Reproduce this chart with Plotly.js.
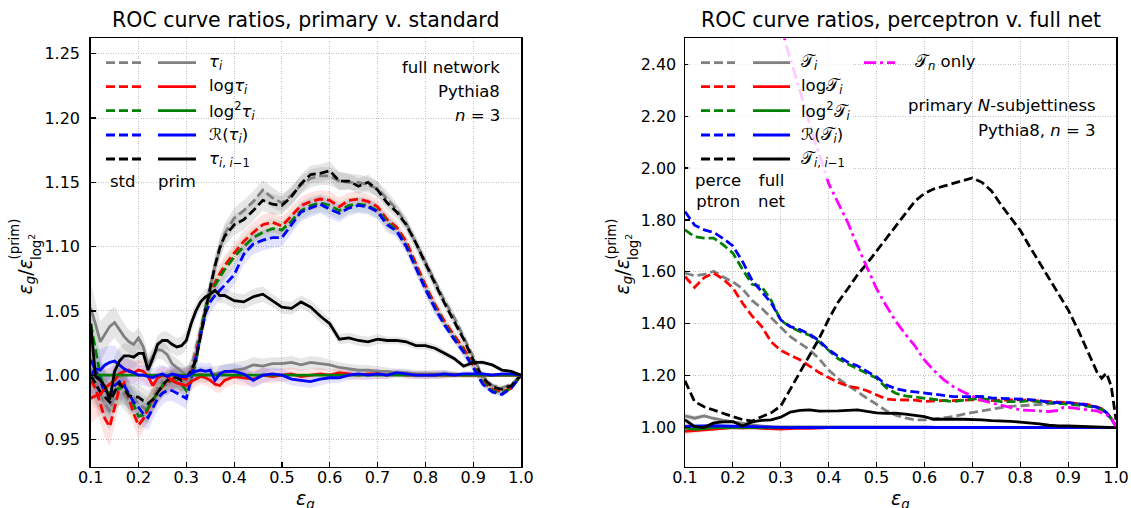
<!DOCTYPE html>
<html>
<head>
<meta charset="utf-8">
<script src="https://cdn.plot.ly/plotly-3.0.1.min.js"></script>
<style>html,body{margin:0;padding:0;background:#fff}#chart{width:1131px;height:508px}</style>
</head>
<body>
<div id="chart"></div>
<script>
// ---------- left panel: primary v. standard N-subjettiness inputs ----------
const effL = [0.10,0.11,0.12,0.13,0.14,0.15,0.16,0.17,0.18,0.19,0.20,0.21,0.22,0.23,0.24,0.25,0.26,0.27,0.28,0.29,0.30,0.31,0.32,0.33,0.34,0.35,0.36,0.37,0.38,
  0.40,0.42,0.44,0.46,0.48,0.50,0.52,0.54,0.56,0.58,0.60,0.62,0.64,0.66,0.68,0.70,0.72,0.74,0.76,0.78,0.80,0.82,0.84,0.86,0.88,0.90,0.92,0.94,0.96,0.98,1.00];

// standard inputs (dashed)
const stdTau = [1.005,0.995,0.985,0.978,0.972,0.985,0.990,0.985,0.980,0.982,0.978,0.975,0.972,0.982,0.990,0.995,0.992,0.996,0.998,0.995,0.997,1.006,1.020,1.036,1.052,1.068,1.085,1.098,1.110,
  1.122,1.128,1.135,1.144,1.138,1.134,1.140,1.148,1.153,1.155,1.155,1.151,1.150,1.150,1.148,1.145,1.137,1.129,1.118,1.103,1.087,1.072,1.058,1.045,1.030,1.014,0.999,0.992,0.990,0.993,1.000];
const stdLogTau = [0.996,0.990,0.978,0.966,0.960,0.975,0.990,0.994,0.982,0.970,0.961,0.966,0.974,0.980,0.987,0.991,0.994,0.997,0.999,0.998,0.997,1.001,1.015,1.034,1.052,1.063,1.072,1.079,1.085,
  1.095,1.104,1.111,1.117,1.119,1.116,1.124,1.132,1.135,1.137,1.136,1.131,1.136,1.137,1.135,1.131,1.121,1.115,1.104,1.087,1.070,1.055,1.042,1.031,1.021,1.008,0.995,0.989,0.987,0.990,1.000];
const stdLog2Tau = [1.040,1.020,1.000,0.988,0.986,0.988,0.990,0.989,0.985,0.977,0.968,0.969,0.975,0.980,0.987,0.992,0.996,0.996,0.995,0.993,0.988,0.995,1.010,1.033,1.052,1.063,1.070,1.076,1.082,
  1.092,1.100,1.107,1.111,1.114,1.113,1.120,1.128,1.132,1.134,1.132,1.128,1.132,1.133,1.132,1.128,1.119,1.113,1.101,1.084,1.068,1.053,1.040,1.029,1.019,1.007,0.994,0.988,0.986,0.990,1.000];
const stdRTau = [1.012,1.004,0.996,0.986,0.984,0.992,0.995,0.992,0.986,0.979,0.975,0.970,0.967,0.974,0.982,0.986,0.988,0.988,0.986,0.984,0.982,0.997,1.014,1.032,1.048,1.057,1.062,1.066,1.070,
  1.078,1.094,1.102,1.105,1.107,1.107,1.117,1.127,1.130,1.133,1.129,1.126,1.130,1.132,1.131,1.127,1.117,1.112,1.100,1.083,1.067,1.052,1.039,1.028,1.018,1.006,0.993,0.987,0.985,0.990,1.000];
const stdTauRatio = [1.000,0.993,0.987,0.983,0.979,0.987,0.994,0.989,0.984,0.983,0.983,0.980,0.978,0.981,0.987,0.992,0.996,0.999,0.998,0.996,0.999,1.003,1.012,1.032,1.050,1.068,1.085,1.099,1.108,
  1.117,1.121,1.128,1.136,1.133,1.132,1.139,1.149,1.156,1.157,1.159,1.151,1.151,1.147,1.150,1.144,1.134,1.127,1.117,1.103,1.087,1.071,1.056,1.042,1.028,1.012,0.998,0.991,0.989,0.992,1.000];

// primary inputs (solid)
const primTau = [1.052,1.040,1.026,1.032,1.038,1.041,1.035,1.030,1.026,1.024,1.029,1.022,1.008,1.015,1.020,1.019,1.016,1.009,1.006,1.003,1.000,1.000,1.000,1.001,1.000,1.001,1.001,1.002,1.002,
  1.004,1.005,1.008,1.007,1.009,1.009,1.010,1.008,1.010,1.009,1.008,1.006,1.005,1.004,1.004,1.003,1.003,1.002,1.002,1.001,1.001,1.001,1.001,1.001,1.000,1.000,1.000,1.000,1.000,1.000,1.000];
const primLogTau = [0.982,0.984,0.985,0.990,0.993,0.996,1.001,1.003,1.004,1.002,1.004,1.003,0.999,0.992,0.998,1.000,0.999,0.996,0.994,0.993,0.992,0.995,0.997,0.999,0.998,0.996,0.993,0.992,0.996,
  0.999,0.998,0.997,1.000,0.999,1.000,1.001,0.999,1.000,1.001,1.000,1.002,1.001,1.000,1.001,1.001,1.000,1.001,1.000,1.000,1.000,1.000,1.000,1.000,1.000,1.000,1.000,1.000,1.000,1.000,1.000];
const primLog2Tau = [1.000,1.000,1.000,1.000,1.000,1.000,1.000,1.000,1.000,1.000,1.000,1.000,1.000,1.000,1.000,1.000,1.000,1.000,1.000,1.000,1.000,1.000,1.000,1.000,1.000,1.000,1.000,1.000,1.000,
  1.000,1.000,1.000,1.000,1.000,1.000,1.000,1.000,1.000,1.000,1.000,1.000,1.000,1.000,1.000,1.000,1.000,1.000,1.000,1.000,1.000,1.000,1.000,1.000,1.000,1.000,1.000,1.000,1.000,1.000,1.000];
const primRTau = [1.000,1.005,1.004,1.008,1.010,1.011,1.008,1.005,1.003,1.002,1.000,1.000,0.999,0.998,1.000,1.001,0.999,1.001,1.000,0.999,0.999,1.001,1.003,1.004,1.003,1.004,0.996,1.001,1.003,
  1.003,1.001,0.996,1.000,1.001,1.000,0.997,0.996,0.995,0.997,0.998,0.998,1.000,1.001,1.000,1.001,1.000,1.002,1.001,1.000,1.000,1.000,1.001,1.000,1.001,1.001,1.001,1.000,1.001,1.001,1.000];
const primTauRatio = [1.040,0.999,0.996,0.991,0.981,1.003,1.011,1.015,1.015,1.014,1.017,1.017,1.004,1.013,1.024,1.027,1.027,1.024,1.022,1.023,1.027,1.040,1.050,1.057,1.061,1.063,1.066,1.062,1.062,
  1.058,1.057,1.061,1.063,1.058,1.053,1.052,1.057,1.053,1.046,1.040,1.028,1.029,1.027,1.026,1.028,1.027,1.027,1.026,1.023,1.023,1.021,1.017,1.013,1.007,1.010,1.010,1.008,1.004,1.003,1.000];

// half-width of the uncertainty bands
const spreadStdL = [0.018,0.016,0.015,0.015,0.015,0.014,0.013,0.012,0.011,0.010,0.010,0.010,0.010,0.009,0.009,0.009,0.008,0.008,0.008,0.008,0.008,0.008,0.008,0.008,0.008,0.008,0.008,0.008,0.008,
  0.008,0.008,0.008,0.008,0.008,0.007,0.007,0.007,0.007,0.007,0.007,0.007,0.006,0.006,0.006,0.006,0.006,0.005,0.005,0.005,0.005,0.005,0.004,0.004,0.004,0.003,0.003,0.002,0.002,0.001,0.000];
const spreadPrimL = [0.020,0.018,0.016,0.014,0.013,0.012,0.011,0.010,0.009,0.009,0.008,0.008,0.008,0.007,0.007,0.007,0.007,0.007,0.007,0.007,0.007,0.007,0.006,0.006,0.006,0.006,0.006,0.006,0.006,
  0.006,0.006,0.006,0.006,0.005,0.005,0.005,0.005,0.005,0.005,0.004,0.004,0.004,0.004,0.004,0.004,0.003,0.003,0.003,0.003,0.003,0.003,0.003,0.002,0.002,0.002,0.002,0.001,0.001,0.001,0.000];

// ---------- right panel: perceptron v. full network ----------
const effR = [0.10,0.12,0.14,0.16,0.18,0.20,0.22,0.24,0.26,0.28,0.30,0.32,0.34,0.36,0.38,0.40,0.42,0.44,0.46,0.48,0.50,0.52,0.54,0.56,0.58,0.60,0.62,0.64,0.66,0.68,0.70,0.72,0.74,0.76,0.78,0.80,0.82,0.84,0.86,0.88,0.90,0.92,0.94,0.96,0.97,0.98,0.99,1.00];

// perceptron (dashed)
const percTau = [1.595,1.585,1.590,1.602,1.580,1.562,1.535,1.490,1.460,1.423,1.387,1.350,1.325,1.300,1.265,1.222,1.188,1.162,1.138,1.113,1.090,1.065,1.048,1.037,1.030,
  1.030,1.033,1.037,1.042,1.051,1.058,1.063,1.070,1.077,1.082,1.083,1.086,1.089,1.092,1.094,1.094,1.092,1.086,1.078,1.072,1.058,1.035,1.005];
const percLogTau = [1.582,1.540,1.578,1.595,1.572,1.538,1.480,1.430,1.390,1.330,1.297,1.279,1.261,1.237,1.212,1.193,1.174,1.160,1.153,1.142,1.125,1.110,1.107,1.107,1.106,
  1.101,1.103,1.104,1.104,1.106,1.107,1.106,1.104,1.106,1.107,1.107,1.105,1.102,1.100,1.098,1.096,1.093,1.089,1.080,1.073,1.058,1.035,1.005];
const percLog2Tau = [1.762,1.735,1.730,1.730,1.704,1.672,1.610,1.552,1.543,1.490,1.413,1.388,1.370,1.356,1.330,1.296,1.265,1.245,1.226,1.210,1.190,1.154,1.132,1.122,1.118,
  1.114,1.109,1.105,1.100,1.105,1.110,1.112,1.107,1.100,1.100,1.100,1.103,1.100,1.096,1.094,1.091,1.088,1.083,1.076,1.070,1.057,1.035,1.005];
const percRTau = [1.832,1.780,1.762,1.752,1.728,1.700,1.640,1.568,1.524,1.480,1.415,1.389,1.378,1.360,1.335,1.300,1.275,1.252,1.238,1.218,1.195,1.165,1.150,1.142,1.138,
  1.133,1.128,1.124,1.119,1.119,1.120,1.120,1.114,1.113,1.112,1.109,1.108,1.104,1.097,1.096,1.096,1.092,1.087,1.078,1.072,1.058,1.035,1.005];
const percTauRatio = [1.180,1.100,1.080,1.067,1.055,1.042,1.031,1.025,1.042,1.057,1.083,1.148,1.209,1.273,1.343,1.418,1.484,1.535,1.588,1.632,1.680,1.730,1.778,1.828,1.872,
  1.902,1.920,1.930,1.940,1.952,1.962,1.945,1.912,1.858,1.808,1.760,1.697,1.636,1.575,1.515,1.454,1.380,1.300,1.215,1.190,1.210,1.160,1.030];

// full network (solid)
const fullTau = [1.045,1.036,1.045,1.035,1.028,1.022,1.016,1.010,1.006,1.004,1.004,1.004,1.005,1.005,1.004,1.005,1.005,1.004,1.005,1.005,1.004,1.004,1.004,1.004,1.003,
  1.003,1.002,1.002,1.002,1.001,1.001,1.001,1.001,1.001,1.001,1.001,1.001,1.001,1.001,1.001,1.000,1.000,1.000,1.000,1.000,1.000,1.000,1.000];
const fullLogTau = [0.985,0.988,0.990,0.995,0.998,1.000,0.998,1.000,0.997,0.996,0.994,0.996,0.998,0.997,0.999,1.000,1.000,1.000,1.000,1.000,1.000,1.000,1.000,1.000,1.000,
  1.000,1.000,1.000,1.000,1.000,1.000,1.000,1.000,1.000,1.000,1.000,1.000,1.000,1.000,1.000,1.000,1.000,1.000,1.000,1.000,1.000,1.000,1.000];
const fullLog2Tau = [0.998,0.993,0.996,1.000,1.000,1.000,1.000,1.000,1.000,1.000,1.000,1.000,1.000,1.000,1.000,1.000,1.000,1.000,1.000,1.000,1.000,1.000,1.000,1.000,1.000,
  1.000,1.000,1.000,1.000,1.000,1.000,1.000,1.000,1.000,1.000,1.000,1.000,1.000,1.000,1.000,1.000,1.000,1.000,1.000,1.000,1.000,1.000,1.000];
const fullRTau = [1.005,1.006,1.006,1.007,1.006,1.005,1.004,1.002,1.001,1.000,1.000,1.000,1.001,1.000,1.000,1.000,1.001,1.001,1.000,1.000,1.000,1.000,1.000,1.000,1.000,
  1.000,1.000,1.000,1.000,1.000,1.000,1.000,1.000,1.000,1.000,1.000,1.000,1.000,1.000,1.000,1.000,1.000,1.000,1.000,1.000,1.000,1.000,1.000];
const fullTauRatio = [1.030,1.004,1.000,1.018,1.022,1.023,1.006,1.022,1.028,1.030,1.040,1.060,1.066,1.068,1.063,1.063,1.064,1.066,1.068,1.062,1.057,1.055,1.056,1.052,1.048,
  1.042,1.032,1.031,1.032,1.032,1.032,1.030,1.027,1.026,1.024,1.021,1.018,1.014,1.009,1.006,1.006,1.005,1.004,1.003,1.003,1.002,1.001,1.000];
const spreadFullR = [0.012,0.010,0.008,0.007,0.006,0.005,0.004,0.004,0.003,0.003,0.003,0.003,0.003,0.003,0.003,0.003,0.003,0.003,0.003,0.003,0.002,0.002,0.002,0.002,0.002,
  0.002,0.002,0.002,0.002,0.002,0.002,0.002,0.002,0.002,0.002,0.002,0.002,0.002,0.002,0.002,0.001,0.001,0.001,0.001,0.001,0.001,0.001,0.000];

// single-variable perceptron, tau_n only (dash-dot)
const effTauN = [0.30,0.31,0.33,0.35,0.37,0.39,0.40,0.42,0.44,0.46,0.48,0.50,0.52,0.54,0.56,0.58,0.60,0.62,0.64,0.66,0.68,0.70,0.72,0.74,0.76,0.78,0.80,0.82,0.84,0.86,0.88,0.89,0.90,0.92,0.94,0.96,0.98,0.99,1.00];
const tauNOnly = [2.56,2.48,2.36,2.23,2.11,2.00,1.94,1.865,1.79,1.70,1.615,1.535,1.47,1.41,1.36,1.315,1.26,1.22,1.185,1.158,1.138,1.12,1.105,1.095,1.085,1.077,1.068,1.066,1.064,1.062,1.066,1.078,1.078,1.072,1.068,1.064,1.05,1.035,1.005];

// ---------- styling ----------
const W = 1131, H = 508;
const FONT = 'DejaVu Sans';
const px = v => v / W;
const py = v => 1 - v / H;
const DASH = '9px,4px';
const DASHDOT = '12px,4px,3px,4px';
const LW = 2.8;
const COLORS = {gray: '#808080', red: '#ff0000', green: '#008000', blue: '#0000ff', black: '#000000', magenta: '#ff00ff'};
const BANDS = {gray: 'rgba(128,128,128,0.2)', red: 'rgba(255,0,0,0.11)', green: 'rgba(0,128,0,0.11)', blue: 'rgba(0,0,255,0.11)'};

function band(xs, ys, spread, fill, xa, ya) {
  const up = ys.map((v, i) => v + spread[i]);
  const lo = ys.map((v, i) => v - spread[i]);
  return {x: xs.concat(xs.slice().reverse()), y: up.concat(lo.slice().reverse()), mode: 'lines', fill: 'toself',
    fillcolor: fill, line: {width: 0}, hoverinfo: 'skip', showlegend: false, xaxis: xa, yaxis: ya};
}
function curve(xs, ys, color, dash, xa, ya) {
  return {x: xs, y: ys, mode: 'lines', line: {color: color, width: LW, dash: dash}, hoverinfo: 'skip', showlegend: false, xaxis: xa, yaxis: ya};
}

const seriesL = [
  ['gray', stdTau, primTau], ['red', stdLogTau, primLogTau], ['green', stdLog2Tau, primLog2Tau],
  ['blue', stdRTau, primRTau], ['black', stdTauRatio, primTauRatio]
];
const seriesR = [
  ['gray', percTau, fullTau], ['red', percLogTau, fullLogTau], ['green', percLog2Tau, fullLog2Tau],
  ['blue', percRTau, fullRTau], ['black', percTauRatio, fullTauRatio]
];

const traces = [];
seriesL.forEach(([c, s, p]) => {
  const fill = c === 'black' ? BANDS.gray : BANDS[c];
  traces.push(band(effL, s, spreadStdL, fill, 'x', 'y'));
  if (c !== 'green') traces.push(band(effL, p, spreadPrimL, fill, 'x', 'y'));
});
seriesL.forEach(([c, s]) => traces.push(curve(effL, s, COLORS[c], DASH, 'x', 'y')));
seriesL.forEach(([c, , p]) => traces.push(curve(effL, p, COLORS[c], 'solid', 'x', 'y')));

seriesR.forEach(([c, , p]) => {
  if (c !== 'green') traces.push(band(effR, p, spreadFullR, c === 'black' ? BANDS.gray : BANDS[c], 'x2', 'y2'));
});
seriesR.forEach(([c, s]) => traces.push(curve(effR, s, COLORS[c], DASH, 'x2', 'y2')));
seriesR.forEach(([c, , p]) => traces.push(curve(effR, p, COLORS[c], 'solid', 'x2', 'y2')));
traces.push(curve(effTauN, tauNOnly, COLORS.magenta, DASHDOT, 'x2', 'y2'));

// ---------- axes ----------
const frame = {showline: true, mirror: true, linecolor: '#000', linewidth: 1.5, ticks: 'inside', ticklen: 5, tickwidth: 1.2,
  tickcolor: '#000', showgrid: true, gridcolor: '#c4c4c4', gridwidth: 1, griddash: '1px,1.5px', zeroline: false,
  tickfont: {family: FONT, size: 16, color: '#000'}};
const xTicks = {range: [0.1, 1.0], tick0: 0.1, dtick: 0.1, tickformat: '.1f', ticklabelstandoff: -4};

// ---------- legends and text ----------
const rowsY = [62.7, 86.7, 110.7, 135, 159];
const legendColors = ['gray', 'red', 'green', 'blue', 'black'];
const labelsL = ['<i>τ</i><sub><i>i</i></sub>', 'log<i>τ</i><sub><i>i</i></sub>', 'log<sup>2</sup><i>τ</i><sub><i>i</i></sub>',
  'ℛ(<i>τ</i><sub><i>i</i></sub>)', '<i>τ</i><sub><i>i</i>, <i>i</i>−1</sub>'];
const labelsR = ['𝒯<sub><i>i</i></sub>', 'log𝒯<sub><i>i</i></sub>', 'log<sup>2</sup>𝒯<sub><i>i</i></sub>',
  'ℛ(𝒯<sub><i>i</i></sub>)', '𝒯<sub><i>i</i>, <i>i</i>−1</sub>'];

const shapes = [];
const annotations = [];

function seg(x0, x1, y, color, dash) {
  shapes.push({type: 'line', xref: 'paper', yref: 'paper', x0: px(x0), x1: px(x1), y0: py(y), y1: py(y),
    line: {color: color, width: LW, dash: dash}, layer: 'above'});
}
function text(t, x, y, xanchor, size, extra) {
  annotations.push(Object.assign({text: t, xref: 'paper', yref: 'paper', x: px(x), y: py(y), showarrow: false,
    xanchor: xanchor, yanchor: 'middle', font: {family: FONT, size: size, color: '#000'}}, extra || {}));
}

// translucent legend background on the right panel
shapes.push({type: 'rect', xref: 'paper', yref: 'paper', x0: px(688), x1: px(852), y0: py(179), y1: py(40),
  fillcolor: 'rgba(255,255,255,0.8)', line: {width: 0}, layer: 'above'});

rowsY.forEach((y, i) => {
  const c = COLORS[legendColors[i]];
  seg(106, 141, y, c, DASH); seg(158, 196, y, c, 'solid');
  text(labelsL[i], 207, y, 'left', 16.5);
  seg(701, 735, y, c, DASH); seg(753, 790, y, c, 'solid');
  text(labelsR[i], 799, y, 'left', 16.5);
});
seg(864, 895, 62.7, COLORS.magenta, DASHDOT);
text('𝒯<sub><i>n</i></sub> only', 913, 62.7, 'left', 16.5);

text('std', 123, 181.7, 'center', 16.5);
text('prim', 177, 181.7, 'center', 16.5);
text('perce<br>ptron', 718, 190.5, 'center', 16.5);
text('full<br>net', 772, 190.5, 'center', 16.5);

text('full network', 502, 67.3, 'right', 16.5);
text('Pythia8', 502, 91, 'right', 16.5);
text('<i>n</i> = 3', 502, 115.7, 'right', 16.5);
text('primary <i>N</i>-subjettiness', 1098, 105.5, 'right', 16.5);
text('Pythia8, <i>n</i> = 3', 1098, 130.7, 'right', 16.5);

// titles
text('ROC curve ratios, primary v. standard', 305.9, 20, 'center', 20.5);
text('ROC curve ratios, perceptron v. full net', 900.5, 20, 'center', 20.5);

// x-axis labels
text('<i>ε</i><sub><i>g</i></sub>', 305.9, 499, 'center', 19);
text('<i>ε</i><sub><i>g</i></sub>', 900.5, 499, 'center', 19);

// y-axis labels, assembled so the script parts stack
function yLabel(xMain) {
  annotations.push({text: '<i>ε</i><sub><i>g</i></sub>/<i>ε</i>', textangle: -90, xref: 'paper', yref: 'paper',
    x: px(xMain), y: py(297), xanchor: 'center', yanchor: 'bottom', showarrow: false, font: {family: FONT, size: 19, color: '#000'}});
  annotations.push({text: '(prim)', textangle: -90, xref: 'paper', yref: 'paper',
    x: px(xMain - 12), y: py(262), xanchor: 'center', yanchor: 'bottom', showarrow: false, font: {family: FONT, size: 13.3, color: '#000'}});
  annotations.push({text: 'log<sup>2</sup>', textangle: -90, xref: 'paper', yref: 'paper',
    x: px(xMain + 9), y: py(262), xanchor: 'center', yanchor: 'bottom', showarrow: false, font: {family: FONT, size: 13.3, color: '#000'}});
}
yLabel(26);
yLabel(623);

const layout = {
  width: W, height: H, autosize: false,
  margin: {l: 0, r: 0, t: 0, b: 0},
  paper_bgcolor: '#fff', plot_bgcolor: '#fff',
  font: {family: FONT, color: '#000'},
  showlegend: false,
  xaxis: Object.assign({}, frame, xTicks, {domain: [px(90.7), px(521)], anchor: 'y'}),
  yaxis: Object.assign({}, frame, {domain: [py(466.5), py(38.3)], range: [0.929, 1.262], tick0: 0.95, dtick: 0.05,
    tickformat: '.2f', anchor: 'x', ticklabelstandoff: 6}),
  xaxis2: Object.assign({}, frame, xTicks, {domain: [px(685), px(1116)], anchor: 'y2'}),
  yaxis2: Object.assign({}, frame, {domain: [py(466.5), py(38.3)], range: [0.85, 2.5], tick0: 1.0, dtick: 0.2,
    tickformat: '.2f', anchor: 'x2', ticklabelstandoff: 4}),
  shapes: shapes,
  annotations: annotations
};

Plotly.newPlot('chart', traces, layout, {staticPlot: true, displayModeBar: false});
</script>
</body>
</html>
